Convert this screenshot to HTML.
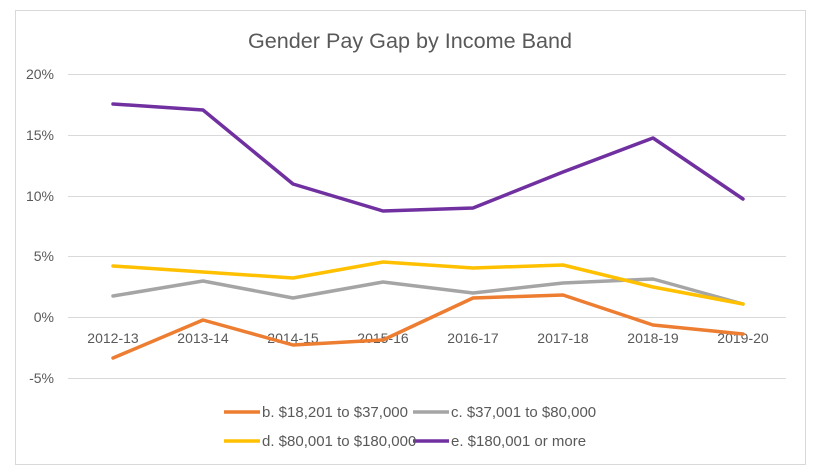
<!DOCTYPE html>
<html><head><meta charset="utf-8"><style>
html,body{margin:0;padding:0;background:#fff;}
svg{display:block;font-family:"Liberation Sans",Calibri,sans-serif;}
</style></head><body>
<svg width="827" height="474" viewBox="0 0 827 474">
<rect x="15.5" y="10.5" width="790" height="454" fill="#fff" stroke="#d9d9d9" stroke-width="1"/>
<text x="410" y="48" text-anchor="middle" font-size="21.6" fill="#595959">Gender Pay Gap by Income Band</text>
<g stroke="#d9d9d9" stroke-width="1">
<line x1="68" x2="786" y1="74.5" y2="74.5"/>
<line x1="68" x2="786" y1="135.5" y2="135.5"/>
<line x1="68" x2="786" y1="196.5" y2="196.5"/>
<line x1="68" x2="786" y1="256.5" y2="256.5"/>
<line x1="68" x2="786" y1="317.5" y2="317.5"/>
<line x1="68" x2="786" y1="378.5" y2="378.5"/>
</g>
<g font-size="14" fill="#595959" text-anchor="end">
<text x="54" y="79">20%</text>
<text x="54" y="140">15%</text>
<text x="54" y="201">10%</text>
<text x="54" y="261">5%</text>
<text x="54" y="322">0%</text>
<text x="54" y="383">-5%</text>
</g>
<g font-size="14" fill="#595959" text-anchor="middle">
<text x="113" y="343">2012-13</text>
<text x="203" y="343">2013-14</text>
<text x="293" y="343">2014-15</text>
<text x="383" y="343">2015-16</text>
<text x="473" y="343">2016-17</text>
<text x="563" y="343">2017-18</text>
<text x="653" y="343">2018-19</text>
<text x="743" y="343">2019-20</text>
</g>
<g fill="none" stroke-width="3.5" stroke-linejoin="round" stroke-linecap="round">
<polyline stroke="#ed7d31" points="113,358 203,320 293,345 383,340 473,298 563,295 653,325 743,334"/>
<polyline stroke="#a5a5a5" points="113,296 203,281 293,298 383,282 473,293 563,283 653,279 743,304"/>
<polyline stroke="#ffc000" points="113,266 203,272 293,278 383,262 473,268 563,265 653,287 743,304"/>
<polyline stroke="#7030a0" points="113,104 203,110 293,184 383,211 473,208 563,172 653,138 743,199"/>
</g>
<g stroke-width="3.5">
<line x1="224" x2="260" y1="412" y2="412" stroke="#ed7d31"/>
<line x1="413" x2="449" y1="412" y2="412" stroke="#a5a5a5"/>
<line x1="224" x2="260" y1="441" y2="441" stroke="#ffc000"/>
<line x1="413" x2="449" y1="441" y2="441" stroke="#7030a0"/>
</g>
<g font-size="15" fill="#595959">
<text x="262" y="417">b. $18,201 to $37,000</text>
<text x="451" y="417">c. $37,001 to $80,000</text>
<text x="262" y="446">d. $80,001 to $180,000</text>
<text x="451" y="446">e. $180,001 or more</text>
</g>
</svg>
</body></html>
